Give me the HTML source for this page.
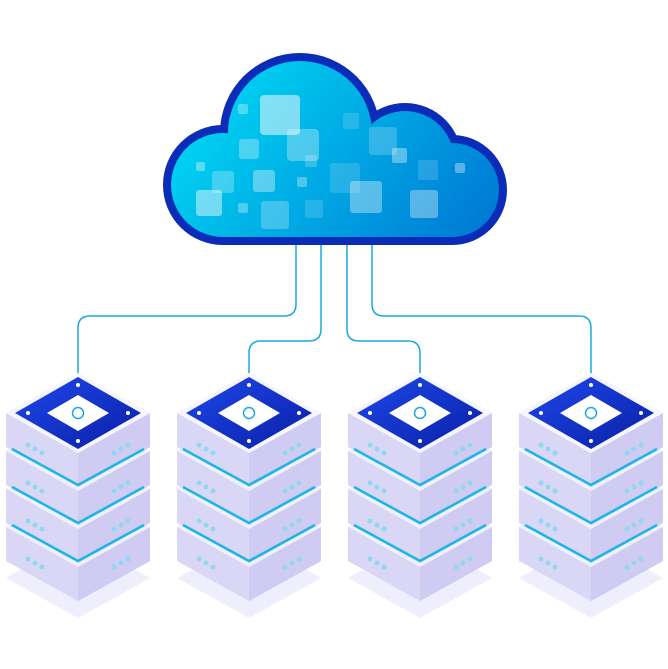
<!DOCTYPE html>
<html><head><style>html,body{margin:0;padding:0;background:#fff}svg{display:block}</style></head>
<body>
<svg width="668" height="669" viewBox="0 0 668 669" xmlns="http://www.w3.org/2000/svg">
<defs>
<linearGradient id="cg" gradientUnits="userSpaceOnUse" x1="230" y1="60" x2="480" y2="245">
<stop offset="0" stop-color="#00d4f2"/><stop offset="1" stop-color="#0078d4"/></linearGradient>
<linearGradient id="tg" x1="0" y1="0" x2="1" y2="1">
<stop offset="0" stop-color="#1e48ea"/><stop offset="1" stop-color="#0a1fa6"/></linearGradient>
<g id="layer">
<polygon points="-72,0 0,-40 72,0 72,34 0,74 -72,34" fill="#d9d6f6"/>
<polygon points="0,40 72,0 72,34 0,74" fill="#cfcbf2"/>
<polygon points="-72,0 0,-40 72,0 0,40" fill="#f1f0fd"/>
</g>
<g id="srv">
<polygon points="-72,165 0,125 72,165 0,205" fill="#efeefc"/>
<use href="#layer" y="114"/>
<use href="#layer" y="76"/>
<polyline points="-66,112 0,148 66,112" fill="none" stroke="#19b6e6" stroke-width="2.5"/>
<use href="#layer" y="38"/>
<polyline points="-66,74 0,110 66,74" fill="none" stroke="#19b6e6" stroke-width="2.5"/>
<use href="#layer" y="0"/>
<polyline points="-66,36 0,72 66,36" fill="none" stroke="#19b6e6" stroke-width="2.5"/>
<polygon points="-72,0 0,-40 72,0 0,40" fill="#f7f6ff"/>
<polygon points="0,-36 63,0 0,36 -63,0" fill="url(#tg)"/>
<polygon points="0,-18 31,0 0,18 -31,0" fill="#fff"/>
<circle cx="0" cy="-28" r="2" fill="#fff"/><circle cx="0" cy="28" r="2" fill="#fff"/>
<circle cx="-50" cy="0" r="2" fill="#fff"/><circle cx="50" cy="0" r="2" fill="#fff"/>
<circle cx="0" cy="0" r="5.5" fill="none" stroke="#19a8dd" stroke-width="1.5"/>
<g fill="#8fd8f0">
<circle cx="-50" cy="32" r="2.5"/><circle cx="-43" cy="36" r="2.5"/><circle cx="-36" cy="40" r="2.5"/>
<circle cx="36" cy="40" r="2.5"/><circle cx="43" cy="36" r="2.5"/><circle cx="50" cy="32" r="2.5"/>
<circle cx="-50" cy="70" r="2.5"/><circle cx="-43" cy="74" r="2.5"/><circle cx="-36" cy="78" r="2.5"/>
<circle cx="36" cy="78" r="2.5"/><circle cx="43" cy="74" r="2.5"/><circle cx="50" cy="70" r="2.5"/>
<circle cx="-50" cy="108" r="2.5"/><circle cx="-43" cy="112" r="2.5"/><circle cx="-36" cy="116" r="2.5"/>
<circle cx="36" cy="116" r="2.5"/><circle cx="43" cy="112" r="2.5"/><circle cx="50" cy="108" r="2.5"/>
<circle cx="-50" cy="146" r="2.5"/><circle cx="-43" cy="150" r="2.5"/><circle cx="-36" cy="154" r="2.5"/>
<circle cx="36" cy="154" r="2.5"/><circle cx="43" cy="150" r="2.5"/><circle cx="50" cy="146" r="2.5"/>
</g>
</g>
</defs>

<g fill="none" stroke="#19a8dd" stroke-width="1.5">
<path d="M296,245 V304 Q296,316 284,316 H90 Q78,316 78,328 V413"/>
<path d="M321,245 V329 Q321,341 309,341 H261 Q249,341 249,353 V413"/>
<path d="M347,245 V329 Q347,341 359,341 H408 Q420,341 420,353 V413"/>
<path d="M372,245 V304 Q372,316 384,316 H579 Q591,316 591,328 V413"/>
</g>

<use href="#srv" x="78" y="413"/>
<use href="#srv" x="249" y="413"/>
<use href="#srv" x="420" y="413"/>
<use href="#srv" x="591" y="413"/>

<g fill="#0b2cb8">
<circle cx="223" cy="185" r="60"/><circle cx="300" cy="133" r="80"/>
<circle cx="405" cy="160" r="57"/><circle cx="452" cy="190" r="55"/>
<rect x="223" y="185" width="230" height="60"/>
</g>
<g fill="url(#cg)">
<circle cx="223" cy="185" r="52"/><circle cx="300" cy="133" r="72"/>
<circle cx="405" cy="160" r="49"/><circle cx="452" cy="190" r="47"/>
<rect x="223" y="185" width="230" height="52"/>
<rect x="250" y="140" width="190" height="60"/>
</g>
<g fill="#ffffff">
<rect x="260" y="95" width="40" height="40" rx="4" opacity=".5"/>
<rect x="287" y="129" width="32" height="32" rx="4" opacity=".3"/>
<rect x="239" y="139" width="20" height="20" rx="3" opacity=".3"/>
<rect x="238" y="104" width="10" height="10" rx="2" opacity=".3"/>
<rect x="212" y="171" width="22" height="22" rx="3" opacity=".25"/>
<rect x="196" y="190" width="26" height="26" rx="3" opacity=".45"/>
<rect x="253" y="170" width="22" height="22" rx="3" opacity=".35"/>
<rect x="261" y="201" width="28" height="28" rx="3" opacity=".25"/>
<rect x="330" y="163" width="30" height="30" rx="3" opacity=".15"/>
<rect x="350" y="181" width="32" height="32" rx="3" opacity=".35"/>
<rect x="369" y="127" width="28" height="28" rx="3" opacity=".2"/>
<rect x="392" y="148" width="15" height="15" rx="2" opacity=".35"/>
<rect x="410" y="190" width="28" height="28" rx="3" opacity=".35"/>
<rect x="343" y="113" width="16" height="16" rx="2" opacity=".15"/>
<rect x="305" y="155" width="12" height="12" rx="2" opacity=".2"/>
<rect x="418" y="160" width="20" height="20" rx="2" opacity=".15"/>
<rect x="455" y="163" width="10" height="10" rx="2" opacity=".35"/>
<rect x="305" y="200" width="18" height="18" rx="2" opacity=".15"/>
<rect x="196" y="162" width="9" height="9" rx="2" opacity=".35"/>
<rect x="238" y="203" width="10" height="10" rx="2" opacity=".3"/>
<rect x="297" y="177" width="10" height="10" rx="2" opacity=".3"/>
</g>
</svg>
</body></html>
